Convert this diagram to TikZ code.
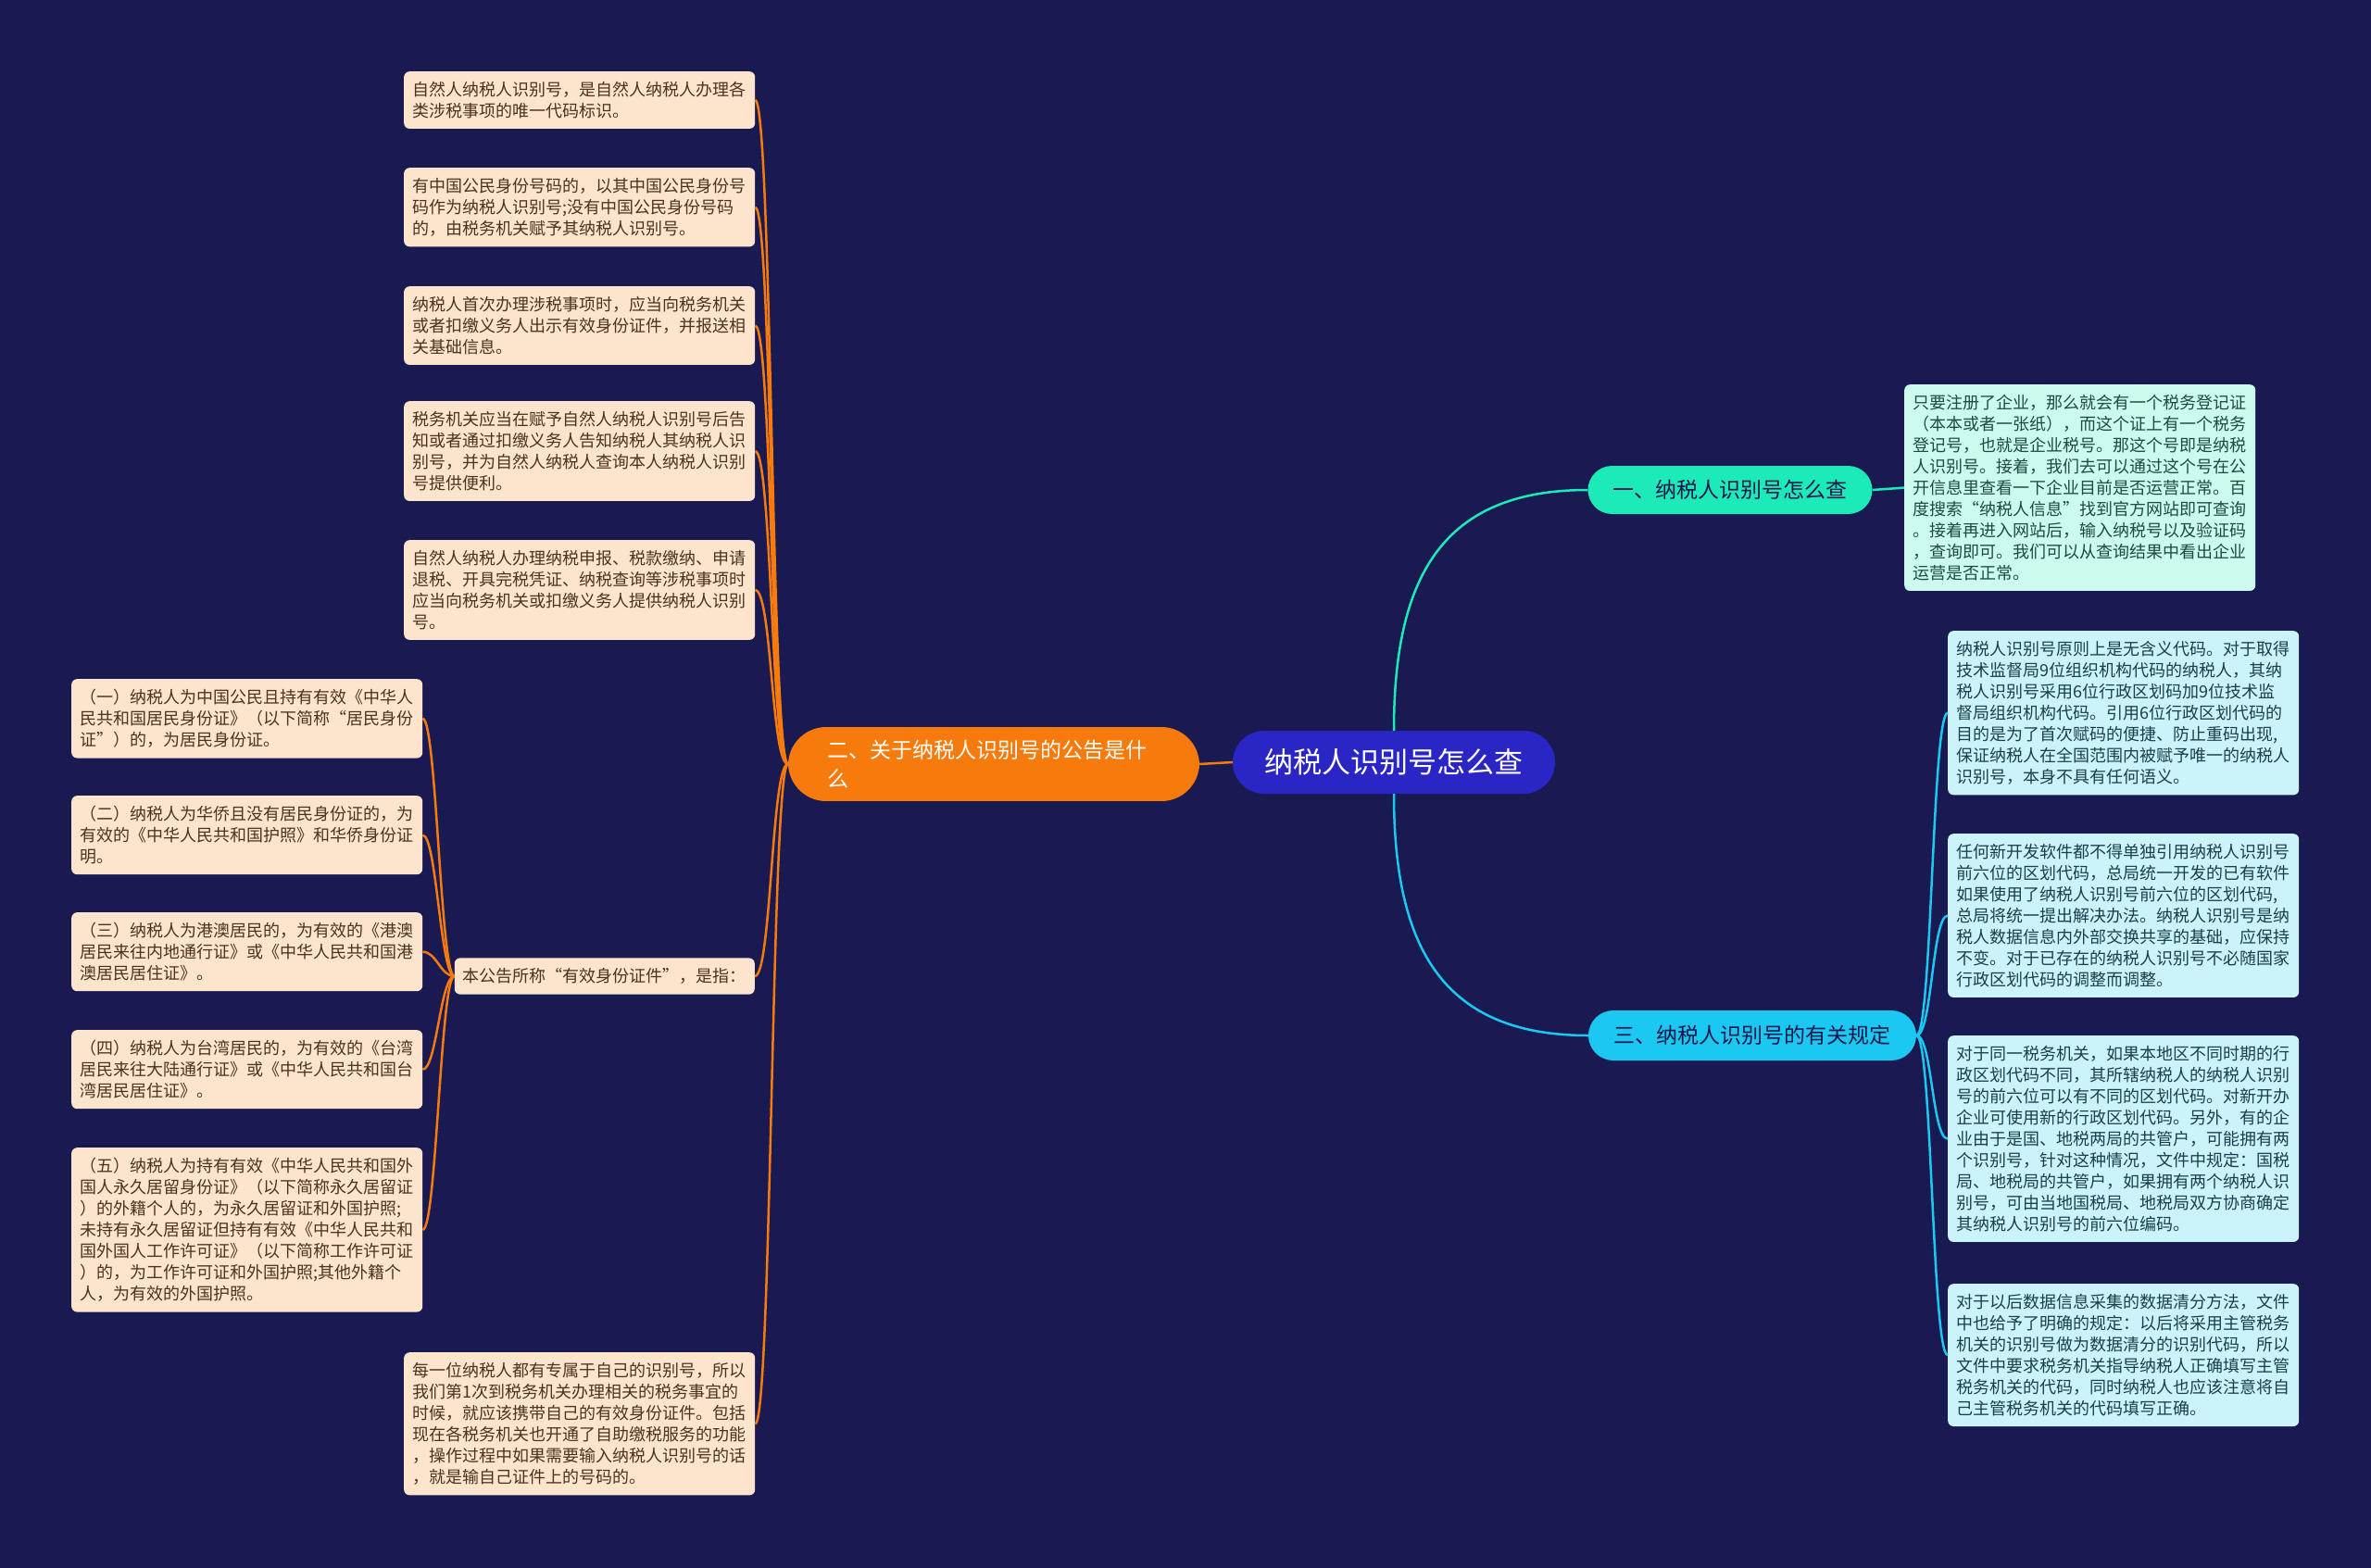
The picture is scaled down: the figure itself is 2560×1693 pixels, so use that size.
\documentclass[tikz,border=0pt]{standalone}
\usepackage{fontspec}
\setmainfont{Noto Sans CJK SC}
\definecolor{bgc}{HTML}{1A1A52}
\definecolor{cblue}{HTML}{2A26C6}
\definecolor{orng}{HTML}{F67B0C}
\definecolor{mint}{HTML}{1CEAB8}
\definecolor{cyanb}{HTML}{1AC8F2}
\definecolor{peach}{HTML}{FDE4CD}
\definecolor{brownt}{HTML}{4A3320}
\definecolor{mintl}{HTML}{CCFAEE}
\definecolor{mintt}{HTML}{1D4A44}
\definecolor{cyanl}{HTML}{CDF3FA}
\definecolor{cyant}{HTML}{183F4D}
\definecolor{darkt}{HTML}{17174A}
\tikzset{
  leafbase/.style={rounded corners=6pt, font=\fontsize{18}{23}\selectfont, inner xsep=9pt, inner ysep=11pt},
  leafw/.style={leafbase, align=left, text width=361pt, anchor=north west},
  leafo/.style={leafw, fill=peach, text=brownt},
  leafone/.style={leafbase, fill=peach, text=brownt, anchor=east},
  leafm/.style={leafw, fill=mintl, text=mintt},
  leafc/.style={leafw, fill=cyanl, text=cyant},
  ocon/.style={draw=orng, line width=2.5pt},
  mcon/.style={draw=mint, line width=2.5pt},
  ccon/.style={draw=cyanb, line width=2.5pt},
}
\begin{document}
\begin{tikzpicture}[x=1pt,y=-1pt]
\useasboundingbox (0,0) rectangle (2560,1693);
\fill[bgc] (0,0) rectangle (2560,1693);

% main nodes
\node[fill=cblue, text=white, rounded corners=34pt, minimum width=348pt, minimum height=68pt, inner sep=0pt, font=\fontsize{31}{36}\selectfont] (c) at (1505,823) {纳税人识别号怎么查};
\node[fill=orng, text=white, rounded corners=41pt, text width=360pt, inner xsep=42pt, inner ysep=14pt, align=left, font=\fontsize{23}{31}\selectfont] (o) at (1073,825) {二、关于纳税人识别号的公告是什\\么};
\node[fill=mint, text=darkt, rounded corners=26pt, minimum width=307pt, minimum height=52pt, inner sep=0pt, font=\fontsize{23}{28}\selectfont] (b1) at (1868,529) {一、纳税人识别号怎么查};
\node[fill=cyanb, text=darkt, rounded corners=27pt, minimum width=354pt, minimum height=54pt, inner sep=0pt, font=\fontsize{23}{28}\selectfont] (b3) at (1892,1118) {三、纳税人识别号的有关规定};

% left leaves
\node[leafo] (L1) at (436,77) {自然人纳税人识别号，是自然人纳税人办理各\\类涉税事项的唯一代码标识。};
\node[leafo] (L2) at (436,181) {有中国公民身份号码的，以其中国公民身份号\\码作为纳税人识别号;没有中国公民身份号码\\的，由税务机关赋予其纳税人识别号。};
\node[leafo] (L3) at (436,309) {纳税人首次办理涉税事项时，应当向税务机关\\或者扣缴义务人出示有效身份证件，并报送相\\关基础信息。};
\node[leafo] (L4) at (436,433) {税务机关应当在赋予自然人纳税人识别号后告\\知或者通过扣缴义务人告知纳税人其纳税人识\\别号，并为自然人纳税人查询本人纳税人识别\\号提供便利。};
\node[leafo] (L5) at (436,583) {自然人纳税人办理纳税申报、税款缴纳、申请\\退税、开具完税凭证、纳税查询等涉税事项时\\应当向税务机关或扣缴义务人提供纳税人识别\\号。};
\node[leafone] (L6) at (815,1054) {本公告所称“有效身份证件”，是指：};
\node[leafo] (L7) at (436,1460) {每一位纳税人都有专属于自己的识别号，所以\\我们第1次到税务机关办理相关的税务事宜的\\时候，就应该携带自己的有效身份证件。包括\\现在各税务机关也开通了自助缴税服务的功能\\，操作过程中如果需要输入纳税人识别号的话\\，就是输自己证件上的号码的。};

\node[leafo] (S1) at (77,733) {（一）纳税人为中国公民且持有有效《中华人\\民共和国居民身份证》（以下简称“居民身份\\证”）的，为居民身份证。};
\node[leafo] (S2) at (77,859) {（二）纳税人为华侨且没有居民身份证的，为\\有效的《中华人民共和国护照》和华侨身份证\\明。};
\node[leafo] (S3) at (77,985) {（三）纳税人为港澳居民的，为有效的《港澳\\居民来往内地通行证》或《中华人民共和国港\\澳居民居住证》。};
\node[leafo] (S4) at (77,1112) {（四）纳税人为台湾居民的，为有效的《台湾\\居民来往大陆通行证》或《中华人民共和国台\\湾居民居住证》。};
\node[leafo] (S5) at (77,1239) {（五）纳税人为持有有效《中华人民共和国外\\国人永久居留身份证》（以下简称永久居留证\\）的外籍个人的，为永久居留证和外国护照;\\未持有永久居留证但持有有效《中华人民共和\\国外国人工作许可证》（以下简称工作许可证\\）的，为工作许可证和外国护照;其他外籍个\\人，为有效的外国护照。};

% right leaves
\node[leafm] (R1) at (2056,415) {只要注册了企业，那么就会有一个税务登记证\\（本本或者一张纸），而这个证上有一个税务\\登记号，也就是企业税号。那这个号即是纳税\\人识别号。接着，我们去可以通过这个号在公\\开信息里查看一下企业目前是否运营正常。百\\度搜索“纳税人信息”找到官方网站即可查询\\。接着再进入网站后，输入纳税号以及验证码\\，查询即可。我们可以从查询结果中看出企业\\运营是否正常。};
\node[leafc] (R2) at (2103,681) {纳税人识别号原则上是无含义代码。对于取得\\技术监督局9位组织机构代码的纳税人，其纳\\税人识别号采用6位行政区划码加9位技术监\\督局组织机构代码。引用6位行政区划代码的\\目的是为了首次赋码的便捷、防止重码出现,\\保证纳税人在全国范围内被赋予唯一的纳税人\\识别号，本身不具有任何语义。};
\node[leafc] (R3) at (2103,900) {任何新开发软件都不得单独引用纳税人识别号\\前六位的区划代码，总局统一开发的已有软件\\如果使用了纳税人识别号前六位的区划代码,\\总局将统一提出解决办法。纳税人识别号是纳\\税人数据信息内外部交换共享的基础，应保持\\不变。对于已存在的纳税人识别号不必随国家\\行政区划代码的调整而调整。};
\node[leafc] (R4) at (2103,1118) {对于同一税务机关，如果本地区不同时期的行\\政区划代码不同，其所辖纳税人的纳税人识别\\号的前六位可以有不同的区划代码。对新开办\\企业可使用新的行政区划代码。另外，有的企\\业由于是国、地税两局的共管户，可能拥有两\\个识别号，针对这种情况，文件中规定：国税\\局、地税局的共管户，如果拥有两个纳税人识\\别号，可由当地国税局、地税局双方协商确定\\其纳税人识别号的前六位编码。};
\node[leafc] (R5) at (2103,1386) {对于以后数据信息采集的数据清分方法，文件\\中也给予了明确的规定：以后将采用主管税务\\机关的识别号做为数据清分的识别代码，所以\\文件中要求税务机关指导纳税人正确填写主管\\税务机关的代码，同时纳税人也应该注意将自\\己主管税务机关的代码填写正确。};

% connectors
\draw[ocon] (c.west) -- (o.east);
\foreach \n in {L1,L2,L3,L4,L5,L6,L7}
  \draw[ocon] (o.west) .. controls +(-18,0) and +(18,0) .. (\n.east);
\foreach \n in {S1,S2,S3,S4,S5}
  \draw[ocon] (L6.west) .. controls +(-15,0) and +(15,0) .. (\n.east);
\draw[mcon] (c.north) .. controls +(0,-169) and +(-155,0) .. (b1.west);
\draw[ccon] (c.south) .. controls +(0,169) and +(-155,0) .. (b3.west);
\draw[mcon] (b1.east) -- (R1.west);
\foreach \n in {R2,R3,R4,R5}
  \draw[ccon] (b3.east) .. controls +(17,0) and +(-17,0) .. (\n.west);
\end{tikzpicture}
\end{document}
